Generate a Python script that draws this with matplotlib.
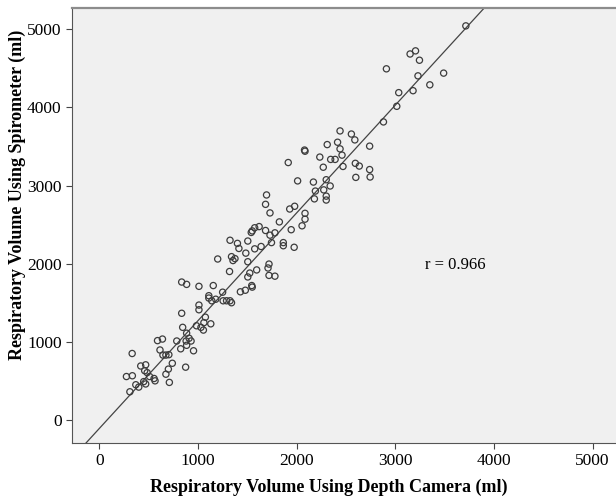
import numpy as np
import matplotlib
matplotlib.use("Agg")
import matplotlib.pyplot as plt

plt.rcParams["font.family"] = ["Liberation Serif", "DejaVu Serif"]

# Depth camera volume (ml) vs spirometer volume (ml)
depth_camera = [
    310, 275, 335, 333, 370, 400, 420, 470, 450, 470,
    460, 485, 510, 555, 565, 590, 615, 640, 645, 675,
    705, 675, 700, 710, 740, 785, 825, 835, 845, 875,
    835, 885, 880, 885, 910, 930, 955, 885, 985, 1010,
    1010, 1030, 1055, 1060, 1075, 1010, 1110, 1110, 1140, 1130,
    1155, 1180, 1200, 1250, 1255, 1290, 1325, 1340, 1320, 1340,
    1355, 1375, 1325, 1400, 1415, 1430, 1480, 1485, 1505, 1505,
    1525, 1505, 1545, 1550, 1575, 1595, 1640, 1720, 1710, 1720,
    1745, 1780, 1865, 1865, 1975, 1550, 1540, 1575, 1620, 1685,
    1780, 1730, 1825, 1945, 1695, 1685, 1730, 1930, 1980, 2085,
    2085, 2055, 2010, 1915, 2170, 2180, 2190, 2275, 2300, 2300,
    2300, 2340, 2270, 2235, 2310, 2345, 2390, 2415, 2440, 2440,
    2460, 2470, 2555, 2590, 2595, 2635, 2600, 2740, 2740, 2745,
    2080, 2085, 2880, 2910, 3015, 3035, 3150, 3205, 3245, 3180,
    3230, 3350, 3490, 3715,
]
spirometer = [
    360, 555, 565, 850, 450, 420, 690, 705, 490, 460,
    630, 605, 555, 530, 500, 1015, 895, 1035, 830, 830,
    835, 585, 650, 480, 725, 1010, 910, 1365, 1185, 675,
    1765, 1735, 1010, 955, 1045, 1010, 885, 1110, 1205, 1470,
    1410, 1185, 1150, 1245, 1315, 1710, 1590, 1560, 1525, 1230,
    1720, 1545, 2060, 1635, 1525, 1525, 1525, 1500, 1900, 2090,
    2040, 2065, 2300, 2260, 2195, 1640, 1660, 2135, 2290, 2025,
    1880, 1830, 1720, 1700, 2190, 1920, 2220, 1995, 1945, 1850,
    2270, 1840, 2270, 2230, 2210, 2420, 2400, 2460, 2475, 2425,
    2395, 2365, 2535, 2435, 2880, 2760, 2650, 2700, 2735, 2645,
    2570, 2485, 3060, 3295, 3045, 2830, 2930, 2945, 2865, 2815,
    3075, 2995, 3235, 3365, 3525, 3335, 3335, 3555, 3700, 3470,
    3390, 3245, 3660, 3585, 3285, 3250, 3105, 3505, 3205, 3110,
    3455, 3440, 3815, 4495, 4015, 4190, 4685, 4725, 4605, 4215,
    4405, 4290, 4440, 5045,
]
# fit line as drawn in the original (slope, intercept)
fit_slope = 1.38
fit_intercept = -110
r_text = "r = 0.966"

x = np.array(depth_camera)
y = np.array(spirometer)

fig = plt.figure(figsize=(6.16, 4.99), dpi=100)
ax = fig.add_axes([0.117, 0.113, 0.883, 0.871])
ax.set_facecolor("#f0f0f0")

ax.scatter(x, y, s=20, facecolors="none", edgecolors="#3c3c3c", linewidths=0.9, zorder=3)

xlim = (-276, 5237)
line_x = np.array(xlim)
ax.plot(line_x, fit_slope * line_x + fit_intercept, color="#444444", lw=0.9, zorder=2)

ax.text(3300, 1984, r_text, fontsize=12, va="center", ha="left")

ax.set_xlim(*xlim)
ax.set_ylim(-291, 5274)
ax.set_xticks([0, 1000, 2000, 3000, 4000, 5000])
ax.set_yticks([0, 1000, 2000, 3000, 4000, 5000])
ax.tick_params(direction="out", length=4, labelsize=12.5, color="#444444")

ax.spines["right"].set_visible(False)
ax.spines["top"].set_color("#8c8c8c")
ax.spines["top"].set_linewidth(1.6)
ax.spines["left"].set_color("#555555")
ax.spines["bottom"].set_color("#555555")

ax.set_xlabel("Respiratory Volume Using Depth Camera (ml)", fontsize=13, fontweight="bold")
ax.set_ylabel("Respiratory Volume Using Spirometer (ml)", fontsize=13, fontweight="bold")
ax.xaxis.set_label_coords(0.4715, -0.082)
ax.yaxis.set_label_coords(-0.085, 0.57)

fig.savefig("out.png", dpi=100)
